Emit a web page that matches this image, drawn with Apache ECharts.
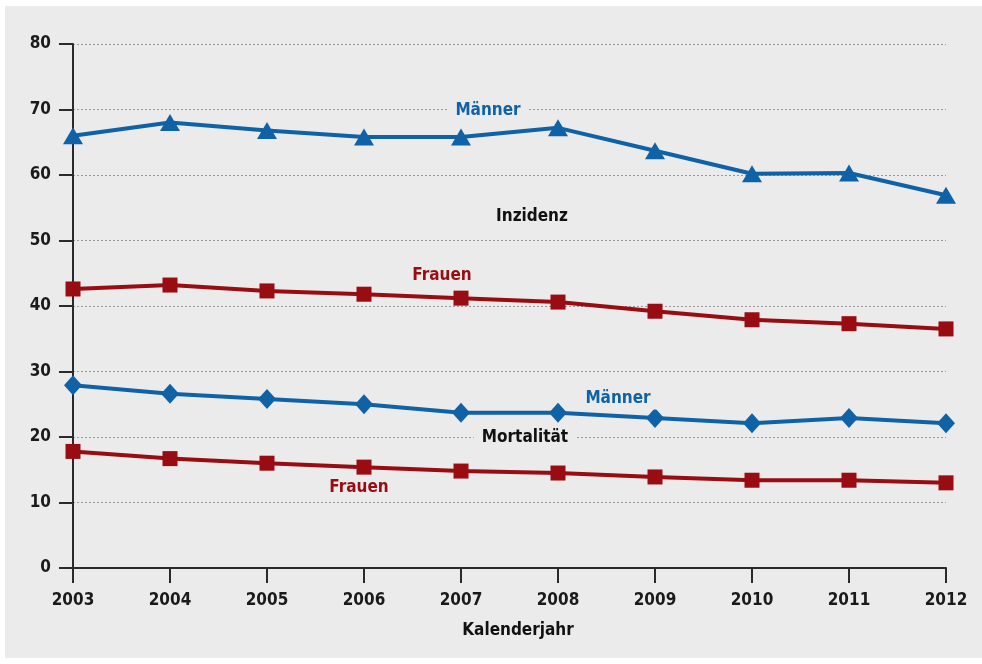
<!DOCTYPE html>
<html><head><meta charset="utf-8">
<script src="https://cdn.jsdelivr.net/npm/echarts@6/dist/echarts.min.js"></script>
<style>
html,body{margin:0;padding:0;background:#fff;width:982px;height:664px;overflow:hidden;}
#c{position:absolute;left:5px;top:6px;width:977px;height:652px;background:#ebebeb;}
</style></head>
<body><div id="c"></div>
<script>
const years = ['2003','2004','2005','2006','2007','2008','2009','2010','2011','2012'];
const inzidenzMaenner = [66.0, 68.0, 66.8, 65.8, 65.8, 67.2, 63.7, 60.2, 60.3, 56.9];
const inzidenzFrauen  = [42.6, 43.2, 42.3, 41.8, 41.2, 40.6, 39.2, 37.9, 37.3, 36.5];
const mortMaenner     = [27.9, 26.6, 25.8, 25.0, 23.7, 23.7, 22.9, 22.1, 22.9, 22.1];
const mortFrauen      = [17.8, 16.7, 16.0, 15.4, 14.8, 14.5, 13.9, 13.4, 13.4, 13.0];
const yTicks = [0,10,20,30,40,50,60,70,80];

const BLUE = '#0f62a6', RED = '#990c12', AX = '#2a2a2a';
const FONT = '"DejaVu Sans Condensed","Liberation Sans Narrow","Liberation Sans",sans-serif';
const chart = echarts.init(document.getElementById('c'));
function txt(x,y,t,color){
  return {type:'text', x:x, y:y, z:100, style:{text:t, fill:color, font:'bold 17px '+FONT,
    textAlign:'center', textVerticalAlign:'middle', backgroundColor:'#ebebeb', padding:[2,8]}};
}
chart.setOption({
  backgroundColor:'#ebebeb',
  animation:false,
  grid:{left:68, right:36, top:38, bottom:90, containLabel:false},
  xAxis:{type:'category', data:years, boundaryGap:false,
    axisLine:{lineStyle:{color:AX,width:2}},
    axisTick:{length:15, lineStyle:{color:AX,width:2}},
    axisLabel:{margin:24, color:'#1a1a1a', fontFamily:FONT, fontWeight:'bold', fontSize:17},
    splitLine:{show:false}},
  yAxis:{type:'value', min:yTicks[0], max:yTicks[yTicks.length-1], interval:10,
    axisLine:{show:true, lineStyle:{color:AX,width:2}},
    axisTick:{show:true, length:14, lineStyle:{color:AX,width:2}},
    axisLabel:{margin:22, color:'#1a1a1a', fontFamily:FONT, fontWeight:'bold', fontSize:17},
    splitLine:{show:true, lineStyle:{color:'#9a9a9a', type:[2,2], width:1}}},
  graphic:[
    txt(483,105,'Männer',BLUE),
    txt(527,211,'Inzidenz','#111'),
    txt(437,270,'Frauen',RED),
    txt(613,393,'Männer',BLUE),
    txt(520,432,'Mortalität','#111'),
    txt(354,482,'Frauen',RED),
    {type:'text', x:513, y:625, style:{text:'Kalenderjahr', fill:'#111', font:'bold 17px '+FONT, textAlign:'center', textVerticalAlign:'middle'}}
  ],
  series:[
    {type:'line', name:'Inzidenz Männer', data:inzidenzMaenner, symbol:'triangle', symbolSize:[20,17],
      lineStyle:{color:BLUE,width:4}, itemStyle:{color:BLUE}, z:5},
    {type:'line', name:'Inzidenz Frauen', data:inzidenzFrauen, symbol:'rect', symbolSize:15,
      lineStyle:{color:RED,width:4}, itemStyle:{color:RED}, z:5},
    {type:'line', name:'Mortalität Männer', data:mortMaenner, symbol:'diamond', symbolSize:[18,20],
      lineStyle:{color:BLUE,width:4}, itemStyle:{color:BLUE}, z:5},
    {type:'line', name:'Mortalität Frauen', data:mortFrauen, symbol:'rect', symbolSize:15,
      lineStyle:{color:RED,width:4}, itemStyle:{color:RED}, z:5}
  ]
});
</script></body></html>
